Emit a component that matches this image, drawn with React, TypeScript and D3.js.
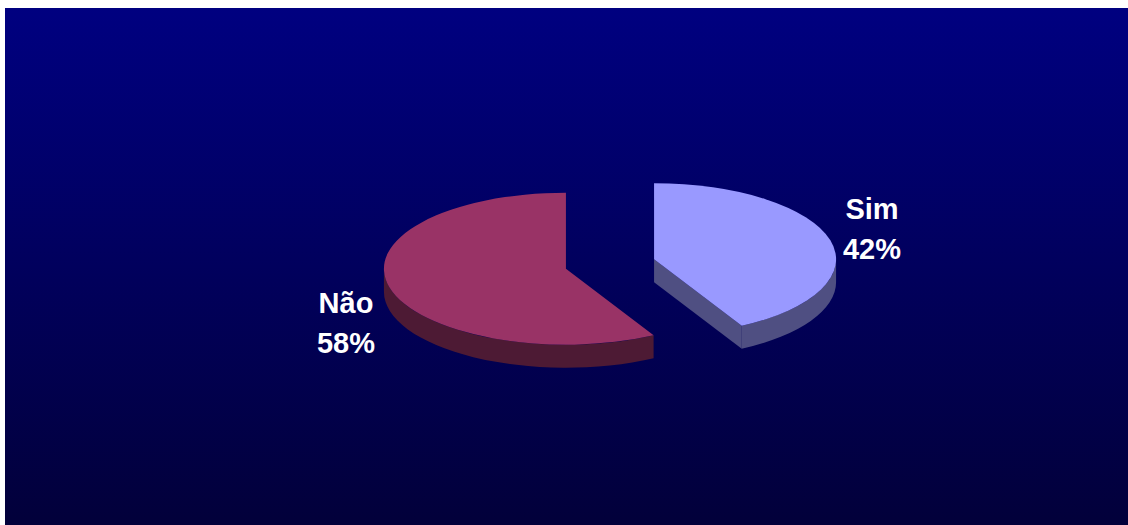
import React from "react";
import * as d3 from "d3";

const categories = ["Sim", "Não"];
const values = [42, 58];
const labels = ["42%", "58%"];
const topColors = ["#9999FF", "#993366"];
const sideColors = ["#4F4F82", "#4D1A34"];

const W = 1128;
const H = 525;
const cx = 610;
const cy = 264;
const rx = 182;
const ry = 76;
const depth = 23;
const explode = 0.25;

function pt(a: number, ox: number, oy: number, dy = 0): [number, number] {
  return [ox + rx * Math.sin(a), oy - ry * Math.cos(a) + dy];
}

export default function App() {
  const pie = d3
    .pie<number>()
    .sort(null)
    .startAngle(0)
    .endAngle(2 * Math.PI)
    .value((d) => d);
  const arcs = pie(values);

  const slices = arcs.map((a, i) => {
    const mid = (a.startAngle + a.endAngle) / 2;
    const ox = cx + explode * rx * Math.sin(mid);
    const oy = cy - explode * ry * Math.cos(mid);
    const s = pt(a.startAngle, ox, oy);
    const e = pt(a.endAngle, ox, oy);
    const large = a.endAngle - a.startAngle > Math.PI ? 1 : 0;
    const top = `M${ox},${oy}L${s[0]},${s[1]}A${rx},${ry} 0 ${large} 1 ${e[0]},${e[1]}Z`;

    const walls: string[] = [];
    const w0 = Math.max(a.startAngle, Math.PI / 2);
    const w1 = Math.min(a.endAngle, (3 * Math.PI) / 2);
    if (w1 > w0) {
      const p0 = pt(w0, ox, oy);
      const p1 = pt(w1, ox, oy);
      const q1 = pt(w1, ox, oy, depth);
      const q0 = pt(w0, ox, oy, depth);
      walls.push(
        `M${p0[0]},${p0[1]}A${rx},${ry} 0 0 1 ${p1[0]},${p1[1]}L${q1[0]},${q1[1]}A${rx},${ry} 0 0 0 ${q0[0]},${q0[1]}Z`
      );
    }
    const radial = (ang: number) => {
      const p = pt(ang, ox, oy);
      return `M${ox},${oy}L${p[0]},${p[1]}L${p[0]},${p[1] + depth}L${ox},${oy + depth}Z`;
    };
    if (Math.sin(a.endAngle) > 1e-6) walls.push(radial(a.endAngle));
    if (Math.sin(a.startAngle) < -1e-6) walls.push(radial(a.startAngle));
    return { top, walls, i };
  });

  const labelPos: [number, number][] = [
    [872, 219],
    [346, 313],
  ];

  return (
    <svg
      width={W}
      height={H}
      style={{ position: "absolute", left: 0, top: 0 }}
      fontFamily="'Liberation Sans', Arial, sans-serif"
    >
      <defs>
        <linearGradient id="bg" x1="0" y1="0" x2="0" y2="1">
          <stop offset="0" stopColor="#000080" />
          <stop offset="1" stopColor="#02003A" />
        </linearGradient>
      </defs>
      <rect x={0} y={0} width={W} height={H} fill="#ffffff" />
      <rect x={5} y={8} width={W - 5} height={H - 8} fill="url(#bg)" />
      {[...slices].reverse().map((s) => (
        <g key={s.i}>
          {s.walls.map((w, j) => (
            <path key={j} d={w} fill={sideColors[s.i]} />
          ))}
          <path d={s.top} fill={topColors[s.i]} />
        </g>
      ))}
      {categories.map((c, i) => (
        <text
          key={c}
          x={labelPos[i][0]}
          y={labelPos[i][1]}
          fill="#ffffff"
          fontSize={29}
          fontWeight="bold"
          textAnchor="middle"
        >
          <tspan x={labelPos[i][0]}>{c}</tspan>
          <tspan x={labelPos[i][0]} dy={40}>
            {labels[i]}
          </tspan>
        </text>
      ))}
    </svg>
  );
}
